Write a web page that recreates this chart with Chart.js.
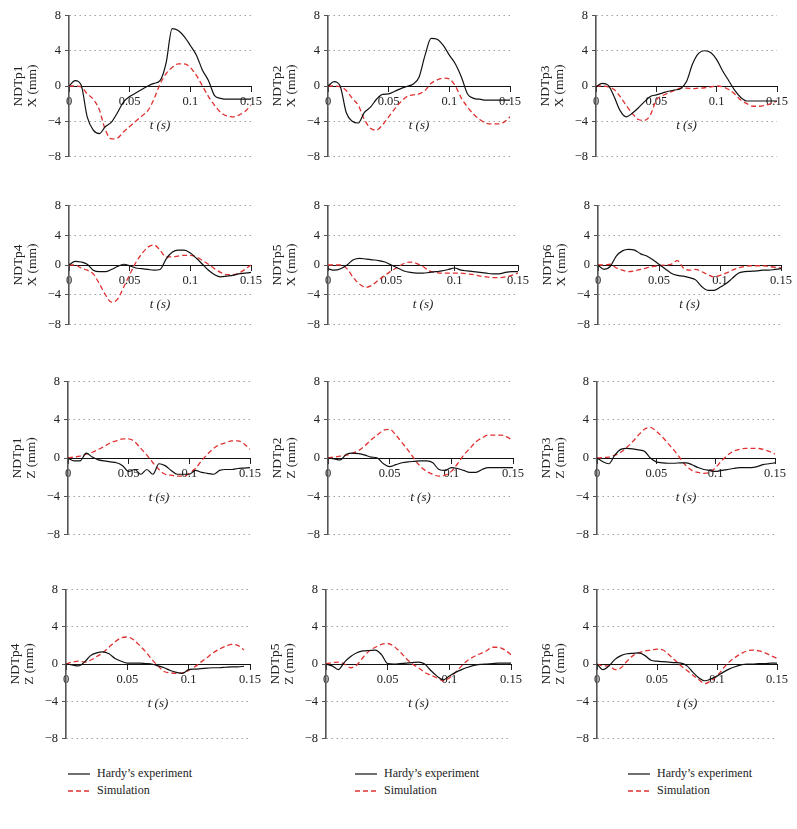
<!DOCTYPE html>
<html lang="en">
<head>
<meta charset="UTF-8">
<title>NDTp X / Z displacement</title>
<script src="https://cdn.jsdelivr.net/npm/chart.js@4.4.1/dist/chart.umd.min.js"></script>
<style>
    html, body {margin: 0;padding: 0;width: 797px;height: 829px;overflow: hidden;background: #fff;}
    canvas {position: absolute;}
    .key {position: absolute;font: 12px "Liberation Serif", serif;color: #222;height: 14px;line-height: 14px;white-space: nowrap;}
    .key svg {vertical-align: middle;margin-right: 7px;}
</style>
</head>
<body>
<div class="key" style="left:68px;top:766px"><svg width="22" height="4"><line x1="0" y1="2" x2="22" y2="2" stroke="#111" stroke-width="1.2"/></svg>Hardy’s experiment</div>
<div class="key" style="left:68px;top:783px"><svg width="22" height="4"><line x1="0" y1="2" x2="22" y2="2" stroke="#e03030" stroke-width="1.3" stroke-dasharray="5 3"/></svg>Simulation</div>
<div class="key" style="left:355px;top:766px"><svg width="22" height="4"><line x1="0" y1="2" x2="22" y2="2" stroke="#111" stroke-width="1.2"/></svg>Hardy’s experiment</div>
<div class="key" style="left:355px;top:783px"><svg width="22" height="4"><line x1="0" y1="2" x2="22" y2="2" stroke="#e03030" stroke-width="1.3" stroke-dasharray="5 3"/></svg>Simulation</div>
<div class="key" style="left:628px;top:766px"><svg width="22" height="4"><line x1="0" y1="2" x2="22" y2="2" stroke="#111" stroke-width="1.2"/></svg>Hardy’s experiment</div>
<div class="key" style="left:628px;top:783px"><svg width="22" height="4"><line x1="0" y1="2" x2="22" y2="2" stroke="#e03030" stroke-width="1.3" stroke-dasharray="5 3"/></svg>Simulation</div>

<script>
    const t = [0, 0.005, 0.01, 0.015, 0.02, 0.025, 0.03, 0.035, 0.04, 0.045, 0.05, 0.055, 0.06, 0.065, 0.07, 0.075,
        0.08, 0.085, 0.09, 0.095, 0.1, 0.105, 0.11, 0.115, 0.12, 0.125, 0.13, 0.135, 0.14, 0.145, 0.15];
    const xTicks = [0, 0.05, 0.1, 0.15];
    const yTicks = [-8, -4, 0, 4, 8];

    // X displacement (mm)
    const hardyX1 = [0, 0.6, 0.1, -3.5, -5.0, -5.4, -4.6, -4.1, -3.0, -1.8, -1.2, -0.8, -0.4, 0, 0.3, 0.6, 2.6, 6.5, 6.3, 5.6, 4.6, 3.5, 1.8, 0.6, -1.1, -1.4, -1.5, -1.5, -1.5, -1.5, -1.5];
    const simX1 = [0, 0, -0.1, -0.9, -1.5, -2.7, -5.0, -6.0, -5.9, -5.2, -4.6, -4.0, -3.4, -2.8, -1.5, 0.2, 1.4, 2.1, 2.5, 2.5, 2.1, 1.2, 0, -1.2, -2.2, -3.0, -3.4, -3.5, -3.3, -2.9, -2.2];
    const hardyX2 = [0, 0.5, 0.0, -3.0, -4.0, -4.2, -3.0, -2.4, -1.5, -0.95, -0.9, -0.6, -0.3, -0.05, 0.2, 1.0, 3.5, 5.4, 5.3, 4.6, 3.5, 2.5, 1.0, -0.9, -1.4, -1.5, -1.6, -1.6, -1.6, -1.6, -1.6];
    const simX2 = [0, 0, -0.1, -0.5, -1.4, -2.2, -3.8, -4.8, -5.0, -4.4, -3.5, -2.6, -1.8, -1.2, -1.0, -0.9, -0.5, 0.3, 0.7, 0.9, 0.8, 0.0, -1.4, -2.4, -3.2, -3.8, -4.2, -4.3, -4.3, -4.1, -3.5];
    const hardyX3 = [-0.1, 0.3, 0.1, -1.2, -2.8, -3.5, -3.1, -2.5, -1.8, -1.2, -1.0, -0.8, -0.6, -0.45, -0.3, 0.5, 2.5, 3.7, 4.0, 3.8, 3.0, 1.7, 0.6, -0.5, -1.3, -1.7, -1.7, -1.7, -1.7, -1.7, -1.7];
    const simX3 = [0, 0, -0.1, -0.4, -1.2, -2.2, -3.1, -3.8, -3.9, -3.3, -1.6, -1.1, -0.8, -0.5, -0.25, -0.25, -0.3, -0.25, -0.2, -0.1, 0, -0.1, -0.4, -0.9, -1.6, -2.0, -2.3, -2.3, -2.2, -2.0, -1.7];
    const hardyX4 = [0, 0.5, 0.4, 0.1, -0.7, -0.9, -0.9, -0.6, -0.2, 0.1, -0.1, -0.4, -0.5, -0.6, -0.7, -0.6, 0.8, 1.7, 2.0, 2.0, 1.6, 0.9, 0.1, -0.7, -1.3, -1.6, -1.5, -1.4, -1.2, -1.1, -1.0];
    const simX4 = [0, 0, -0.4, -0.7, -1.2, -2.5, -4.0, -5.0, -4.6, -3.0, -1.3, 0.3, 1.5, 2.4, 2.7, 2.0, 1.1, 1.1, 1.2, 1.3, 1.3, 1.1, 0.6, 0.1, -0.5, -1.0, -1.3, -1.3, -1.1, -0.6, 0];
    const hardyX5 = [-0.5, -0.7, -0.5, 0, 0.7, 0.9, 0.8, 0.7, 0.6, 0.4, 0, -0.4, -0.8, -1.0, -1.1, -1.1, -1.0, -0.9, -0.8, -0.6, -0.4, -0.7, -0.8, -0.9, -1.0, -1.1, -1.2, -1.2, -1.0, -0.9, -0.9];
    const simX5 = [0, 0, 0, -0.5, -1.7, -2.6, -3.0, -2.7, -2.0, -1.4, -0.8, -0.3, 0.2, 0.4, 0.2, -0.2, -0.8, -1.0, -1.1, -1.1, -1.1, -1.1, -1.2, -1.3, -1.5, -1.6, -1.7, -1.7, -1.6, -1.4, -1.1];
    const hardyX6 = [0, -0.6, -0.2, 1.2, 1.9, 2.1, 2.0, 1.5, 1.2, 0.7, 0.1, -0.5, -1.1, -1.4, -1.5, -1.7, -2.0, -2.9, -3.4, -3.4, -3.0, -2.5, -1.8, -1.1, -0.9, -0.85, -0.8, -0.7, -0.7, -0.6, -0.5];
    const simX6 = [0, 0, 0.1, -0.4, -0.7, -0.9, -0.8, -0.6, -0.4, -0.2, -0.1, 0, 0.1, 0.6, -0.4, -0.7, -0.6, -0.9, -1.3, -1.6, -1.4, -1.1, -0.7, -0.4, -0.2, -0.1, -0.1, -0.1, -0.2, -0.3, -0.4];

    // Z displacement (mm)
    const hardyZ1 = [0, -0.3, -0.3, 0.5, 0.1, -0.2, -0.3, -0.4, -0.5, -0.8, -1.4, -1.2, -1.7, -1.2, -1.7, -0.6, -0.8, -1.3, -1.7, -1.7, -1.7, -1.3, -1.5, -1.6, -1.7, -1.3, -1.2, -1.2, -1.1, -1.05, -1.0];
    const simZ1 = [0, 0.1, 0.2, 0.4, 0.6, 0.9, 1.2, 1.6, 1.8, 2.0, 2.0, 1.7, 1.0, 0.3, -0.5, -1.2, -1.7, -1.8, -1.9, -1.9, -1.6, -1.1, -0.3, 0.4, 1.0, 1.4, 1.6, 1.8, 1.8, 1.5, 0.9];
    const hardyZ2 = [0, -0.1, -0.2, 0.4, 0.5, 0.45, 0.3, 0.1, 0, -0.6, -0.9, -0.7, -0.5, -0.4, -0.35, -0.3, -0.3, -0.5, -1.2, -1.3, -1.0, -1.1, -1.3, -1.5, -1.5, -1.2, -1.0, -1.0, -1.0, -1.0, -1.0];
    const simZ2 = [0, 0.1, 0.2, 0.3, 0.5, 0.8, 1.3, 1.9, 2.4, 2.9, 3.0, 2.4, 1.6, 0.8, -0.1, -0.9, -1.4, -1.7, -1.9, -1.8, -1.4, -0.6, 0.3, 1.0, 1.7, 2.1, 2.4, 2.4, 2.4, 2.2, 1.8];
    const hardyZ3 = [0, -0.4, -0.6, 0.3, 0.9, 1.0, 0.95, 0.85, 0.7, 0, -0.4, -0.5, -0.55, -0.55, -0.5, -0.5, -0.7, -1.0, -1.2, -1.3, -1.4, -1.3, -1.2, -1.1, -1.0, -1.0, -1.0, -0.9, -0.7, -0.6, -0.5];
    const simZ3 = [0, 0.05, 0.1, 0.3, 0.6, 1.1, 1.7, 2.4, 3.0, 3.2, 2.8, 2.2, 1.5, 0.8, 0, -0.8, -1.3, -1.5, -1.6, -1.5, -1.0, -0.3, 0.3, 0.7, 0.9, 1.0, 1.0, 1.0, 0.9, 0.7, 0.4];
    const hardyZ4 = [0, -0.1, -0.2, 0.2, 0.9, 1.2, 1.3, 1.1, 0.6, 0.3, 0.1, 0.1, 0.1, 0.05, 0, -0.2, -0.4, -0.7, -0.9, -1.0, -0.6, -0.55, -0.5, -0.45, -0.4, -0.4, -0.35, -0.3, -0.3, -0.25, null];
    const simZ4 = [0, 0.2, 0.3, 0.2, 0.4, 0.8, 1.2, 1.8, 2.4, 2.8, 2.9, 2.6, 2.0, 1.3, 0.5, -0.2, -0.8, -0.95, -1.0, -0.95, -0.7, -0.3, 0.2, 0.7, 1.2, 1.6, 1.9, 2.1, 2.0, 1.5, null];
    const hardyZ5 = [0, -0.2, -0.6, 0.2, 0.8, 1.2, 1.4, 1.45, 1.5, 1.0, 0.05, 0, 0.05, 0.1, 0.15, 0.2, 0, -0.7, -1.3, -1.7, -1.3, -0.9, -0.6, -0.35, -0.15, -0.05, 0, 0.05, 0.1, 0.1, 0.1];
    const simZ5 = [0, 0.15, 0.2, 0, -0.4, -0.1, 0.7, 1.4, 1.8, 2.1, 2.2, 1.9, 1.3, 0.6, 0, -0.4, -0.9, -1.2, -1.5, -1.8, -1.5, -0.9, -0.2, 0.4, 0.8, 1.1, 1.4, 1.8, 1.8, 1.5, 1.0];
    const hardyZ6 = [0, -0.6, -0.2, 0.5, 0.9, 1.1, 1.15, 1.2, 0.9, 0.4, 0.3, 0.25, 0.2, 0.15, 0.1, -0.2, -0.9, -1.5, -1.8, -1.6, -1.3, -0.9, -0.55, -0.3, -0.1, 0, 0, 0.05, 0.05, 0.1, 0.1];
    const simZ6 = [0, -0.2, -0.2, -0.6, -0.4, 0.3, 0.9, 1.2, 1.4, 1.5, 1.6, 1.5, 1.0, 0.4, -0.2, -0.7, -1.2, -1.7, -2.1, -1.8, -1.3, -0.5, 0.2, 0.7, 1.1, 1.4, 1.5, 1.4, 1.2, 0.9, 0.6];

    // chart area of each panel on the page: [left, right, top, bottom]
    const panels = [
        {name: 'NDTp1', unit: 'X (mm)', hardy: hardyX1, sim: simX1, box: [69, 251, 14, 158]},
        {name: 'NDTp2', unit: 'X (mm)', hardy: hardyX2, sim: simX2, box: [328, 510, 14, 158]},
        {name: 'NDTp3', unit: 'X (mm)', hardy: hardyX3, sim: simX3, box: [596, 777, 14, 158]},
        {name: 'NDTp4', unit: 'X (mm)', hardy: hardyX4, sim: simX4, box: [69, 251, 204, 326]},
        {name: 'NDTp5', unit: 'X (mm)', hardy: hardyX5, sim: simX5, box: [328, 518, 204, 326]},
        {name: 'NDTp6', unit: 'X (mm)', hardy: hardyX6, sim: simX6, box: [598, 781, 204, 326]},
        {name: 'NDTp1', unit: 'Z (mm)', hardy: hardyZ1, sim: simZ1, box: [68, 250, 380, 536]},
        {name: 'NDTp2', unit: 'Z (mm)', hardy: hardyZ2, sim: simZ2, box: [328, 513, 380, 536]},
        {name: 'NDTp3', unit: 'Z (mm)', hardy: hardyZ3, sim: simZ3, box: [597, 775, 380, 536]},
        {name: 'NDTp4', unit: 'Z (mm)', hardy: hardyZ4, sim: simZ4, box: [66, 250, 588, 740]},
        {name: 'NDTp5', unit: 'Z (mm)', hardy: hardyZ5, sim: simZ5, box: [326, 511, 588, 740]},
        {name: 'NDTp6', unit: 'Z (mm)', hardy: hardyZ6, sim: simZ6, box: [597, 777, 588, 740]}
    ];

    const serif = "'Liberation Serif', 'DejaVu Serif', serif";
    const padL = 60, padR = 22, padV = 10;

    function pts(values) {
        return t.map((x, i) => ({x: x, y: values[i]}));
    }

    function drawPanel(p) {
        const [x0, x1, y0, y1] = p.box;
        const cv = document.createElement('canvas');
        cv.width = x1 - x0 + padL + padR;
        cv.height = y1 - y0 + 2 * padV;
        cv.style.left = (x0 - padL) + 'px';
        cv.style.top = (y0 - padV) + 'px';
        document.body.appendChild(cv);

        return new Chart(cv, {
            type: 'line',
            data: {
                datasets: [{
                    label: 'Hardy’s experiment',
                    data: pts(p.hardy),
                    borderColor: '#111',
                    borderWidth: 1.2,
                    pointRadius: 0,
                    cubicInterpolationMode: 'monotone'
                }, {
                    label: 'Simulation',
                    data: pts(p.sim),
                    borderColor: '#e03030',
                    borderWidth: 1.3,
                    borderDash: [5, 3],
                    pointRadius: 0,
                    cubicInterpolationMode: 'monotone'
                }]
            },
            options: {
                responsive: false,
                animation: false,
                events: [],
                layout: {padding: {left: 0, right: padR, top: padV, bottom: padV}},
                plugins: {legend: {display: false}, tooltip: {enabled: false}},
                scales: {
                    x: {
                        type: 'linear',
                        position: {y: 0},
                        min: 0,
                        max: 0.15,
                        afterBuildTicks: s => { s.ticks = xTicks.map(v => ({value: v})); },
                        grid: {drawOnChartArea: false, tickLength: 5, tickColor: '#222'},
                        border: {color: '#111', width: 1},
                        ticks: {font: {family: serif, size: 12.5}, color: '#222', padding: 3, maxRotation: 0,
                            callback: v => String(v)},
                        title: {display: true, text: 't (s)', color: '#222',
                            font: {family: serif, size: 13, style: 'italic'}, padding: {top: 6, bottom: 0}}
                    },
                    y: {
                        position: 'left',
                        min: -8,
                        max: 8,
                        afterBuildTicks: s => { s.ticks = yTicks.map(v => ({value: v})); },
                        afterFit: s => { s.width = padL; },
                        grid: {
                            color: c => (c.tick && c.tick.value === 0) ? 'rgba(0,0,0,0)' : '#8a8a8a',
                            lineWidth: 1,
                            tickLength: 4,
                            tickColor: '#555'
                        },
                        border: {color: '#555', width: 1.6, dash: [1.2, 3.8]},
                        ticks: {font: {family: serif, size: 12.5}, color: '#222', padding: 4,
                            callback: v => v < 0 ? '\u2212' + Math.abs(v) : String(v)},
                        title: {display: true, text: [p.name, p.unit], color: '#222',
                            font: {family: serif, size: 13.5, lineHeight: 1.0}, padding: {top: 3, bottom: 0}}
                    }
                }
            }
        });
    }

    panels.forEach(drawPanel);
</script>
</body>
</html>
